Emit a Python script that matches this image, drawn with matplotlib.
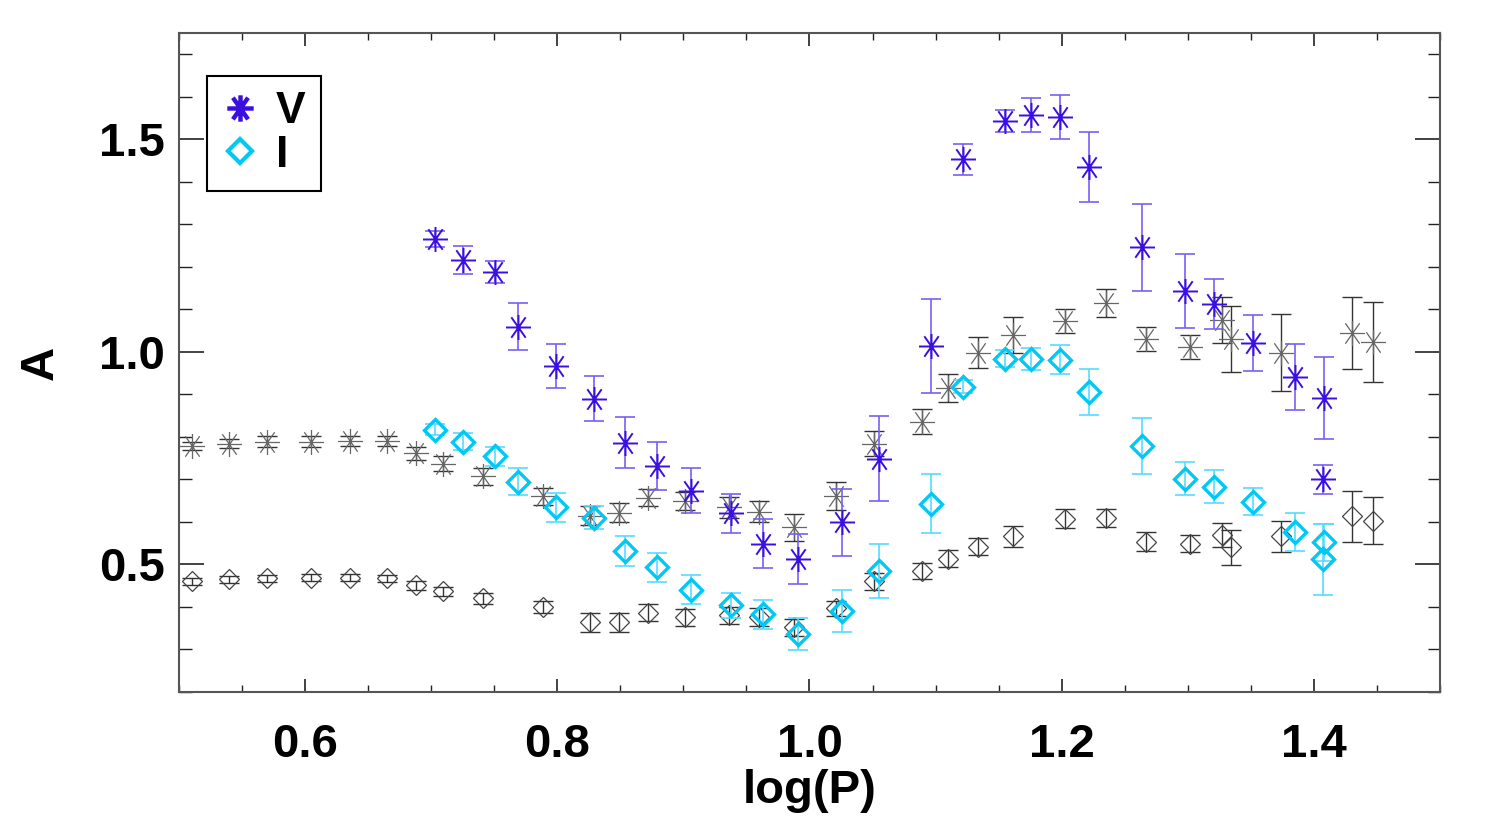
import numpy as np
import matplotlib
matplotlib.use("Agg")
import matplotlib.pyplot as plt
from matplotlib.path import Path
from matplotlib.lines import Line2D
from matplotlib.ticker import FixedLocator, MultipleLocator, FormatStrFormatter

plt.rcParams["font.family"] = ["Liberation Sans", "DejaVu Sans"]
plt.rcParams["font.weight"] = "bold"

# ── Data: V and I amplitudes (coloured) ─────────────────────
logp_vi = [0.703, 0.725, 0.751, 0.769, 0.799, 0.829, 0.854, 0.879, 0.906,
           0.938, 0.963, 0.991, 1.026, 1.055, 1.096, 1.122, 1.155, 1.176,
           1.199, 1.222, 1.264, 1.298, 1.321, 1.352, 1.385, 1.408, 1.407]
amp_v = [1.265, 1.216, 1.188, 1.059, 0.967, 0.890, 0.786, 0.732, 0.673,
         0.620, 0.549, 0.512, 0.599, 0.749, 1.014, 1.453, 1.542, 1.556,
         1.552, 1.434, 1.246, 1.143, 1.113, 1.021, 0.941, 0.892, 0.700]
err_v = [0.019, 0.033, 0.025, 0.055, 0.052, 0.053, 0.060, 0.056, 0.053,
         0.046, 0.058, 0.059, 0.079, 0.100, 0.110, 0.036, 0.026, 0.040,
         0.052, 0.082, 0.102, 0.088, 0.059, 0.065, 0.077, 0.097, 0.034]
amp_i = [0.817, 0.789, 0.754, 0.695, 0.634, 0.610, 0.531, 0.493, 0.441,
         0.404, 0.383, 0.336, 0.390, 0.484, 0.643, 0.918, 0.984, 0.984,
         0.981, 0.906, 0.779, 0.702, 0.683, 0.648, 0.577, 0.552, 0.512]
err_i = [0.013, 0.020, 0.023, 0.031, 0.033, 0.027, 0.035, 0.035, 0.035,
         0.029, 0.034, 0.038, 0.050, 0.063, 0.069, 0.015, 0.020, 0.026,
         0.034, 0.054, 0.066, 0.039, 0.038, 0.032, 0.045, 0.043, 0.084]

# ── Data: comparison sample (grey) ──────────────────────────
logp_ref = [0.510, 0.540, 0.570, 0.605, 0.636, 0.665, 0.688, 0.709, 0.741,
            0.789, 0.826, 0.849, 0.872, 0.901, 0.936, 0.960, 0.988, 1.021,
            1.051, 1.089, 1.110, 1.134, 1.161, 1.203, 1.235, 1.267, 1.302,
            1.327, 1.334, 1.374, 1.430, 1.447]
amp_ref_v = [0.779, 0.784, 0.789, 0.789, 0.791, 0.791, 0.761, 0.737, 0.707,
             0.660, 0.615, 0.622, 0.657, 0.650, 0.634, 0.624, 0.587, 0.660,
             0.784, 0.836, 0.915, 0.998, 1.040, 1.073, 1.115, 1.031, 1.012,
             1.075, 1.031, 0.998, 1.045, 1.023]
err_ref_v = [0.010, 0.010, 0.012, 0.012, 0.012, 0.012, 0.015, 0.018, 0.019,
             0.021, 0.022, 0.023, 0.020, 0.021, 0.025, 0.025, 0.031, 0.033,
             0.030, 0.030, 0.034, 0.036, 0.042, 0.028, 0.034, 0.028, 0.028,
             0.053, 0.078, 0.091, 0.085, 0.095]
amp_ref_i = [0.460, 0.465, 0.467, 0.469, 0.469, 0.467, 0.451, 0.437, 0.420,
             0.399, 0.364, 0.364, 0.387, 0.376, 0.380, 0.376, 0.352, 0.397,
             0.460, 0.484, 0.514, 0.542, 0.566, 0.608, 0.610, 0.554, 0.549,
             0.570, 0.540, 0.566, 0.613, 0.603]
err_ref_i = [0.008, 0.008, 0.009, 0.009, 0.009, 0.009, 0.010, 0.011, 0.013,
             0.014, 0.023, 0.022, 0.020, 0.020, 0.020, 0.021, 0.020, 0.018,
             0.019, 0.019, 0.020, 0.020, 0.024, 0.023, 0.021, 0.023, 0.020,
             0.028, 0.041, 0.036, 0.059, 0.055]

# ── Asterisk marker (horizontal, vertical and two diagonals) ─
angles = np.deg2rad([0, 90, 55, 125])
verts, codes = [], []
for a in angles:
    verts += [(np.cos(a), np.sin(a)), (-np.cos(a), -np.sin(a))]
    codes += [Path.MOVETO, Path.LINETO]
ASTER = Path(verts, codes)

C_V, C_VE = "#3a0fe0", "#7a5ff2"
C_I, C_IE = "#00c8f5", "#55dcff"

fig = plt.figure(figsize=(15, 8.25), dpi=100)
ax = fig.add_axes([0.1193, 0.1612, 0.8407, 0.7988])

# grey comparison sample
ax.errorbar(logp_ref, amp_ref_v, yerr=err_ref_v, fmt="none", ecolor="#333333",
            elinewidth=1.0, capsize=7, capthick=1.0, zorder=2)
ax.plot(logp_ref, amp_ref_v, ls="none", marker=ASTER, ms=18, mec="#666666",
        mew=0.9, zorder=3)
ax.errorbar(logp_ref, amp_ref_i, yerr=err_ref_i, fmt="none", ecolor="#333333",
            elinewidth=1.0, capsize=7, capthick=1.0, zorder=2)
ax.plot(logp_ref, amp_ref_i, ls="none", marker="D", ms=10.5, mfc="none",
        mec="#444444", mew=0.9, zorder=3)

# V band
ax.errorbar(logp_vi, amp_v, yerr=err_v, fmt="none", ecolor=C_VE,
            elinewidth=1.2, capsize=7, capthick=1.2, zorder=4)
ax.plot(logp_vi, amp_v, ls="none", marker=ASTER, ms=18, mec=C_V, mew=1.4,
        zorder=5)

# I band
ax.errorbar(logp_vi, amp_i, yerr=err_i, fmt="none", ecolor=C_IE,
            elinewidth=1.2, capsize=7, capthick=1.2, zorder=6)
ax.plot(logp_vi, amp_i, ls="none", marker="D", ms=11, mfc="none", mec=C_I,
        mew=2.4, zorder=7)

ax.set_xlim(0.5, 1.5)
ax.set_ylim(0.2, 1.75)
ax.xaxis.set_major_locator(FixedLocator([0.6, 0.8, 1.0, 1.2, 1.4]))
ax.xaxis.set_minor_locator(MultipleLocator(0.05))
ax.yaxis.set_major_locator(FixedLocator([0.5, 1.0, 1.5]))
ax.yaxis.set_minor_locator(MultipleLocator(0.1))
ax.xaxis.set_major_formatter(FormatStrFormatter("%.1f"))
ax.yaxis.set_major_formatter(FormatStrFormatter("%.1f"))

ax.tick_params(axis="both", which="both", direction="in", top=True,
               right=True, colors="#222222", labelcolor="black")
ax.tick_params(axis="x", which="major", length=9.5, width=1.2, pad=22,
               labelsize=34)
ax.tick_params(axis="x", which="minor", length=5, width=1.0)
ax.tick_params(axis="y", which="major", length=18, width=1.2, pad=10,
               labelsize=34)
ax.tick_params(axis="y", which="minor", length=9, width=1.0)
for lab in ax.get_xticklabels() + ax.get_yticklabels():
    lab.set_fontweight("bold")
for sp in ax.spines.values():
    sp.set_color("#555555")
    sp.set_linewidth(1.5)

ax.set_xlabel("log(P)", fontsize=34, fontweight="bold", labelpad=2)
ax.set_ylabel("A", fontsize=34, fontweight="bold", labelpad=26)

handles = [
    Line2D([], [], ls="none", marker=ASTER, ms=19, mec=C_V, mew=3.2),
    Line2D([], [], ls="none", marker="D", ms=12, mfc="none", mec=C_I, mew=3.0),
]
leg = ax.legend(handles, ["V", "I"], loc="upper left",
                bbox_to_anchor=(0.022, 0.935), borderaxespad=0,
                fancybox=False, framealpha=1, edgecolor="black",
                prop={"size": 32, "weight": "bold"}, handlelength=0.8,
                handletextpad=0.4, labelspacing=0.05, borderpad=0.35)
leg.get_frame().set_linewidth(1.5)

fig.savefig("out.png", dpi=100)
